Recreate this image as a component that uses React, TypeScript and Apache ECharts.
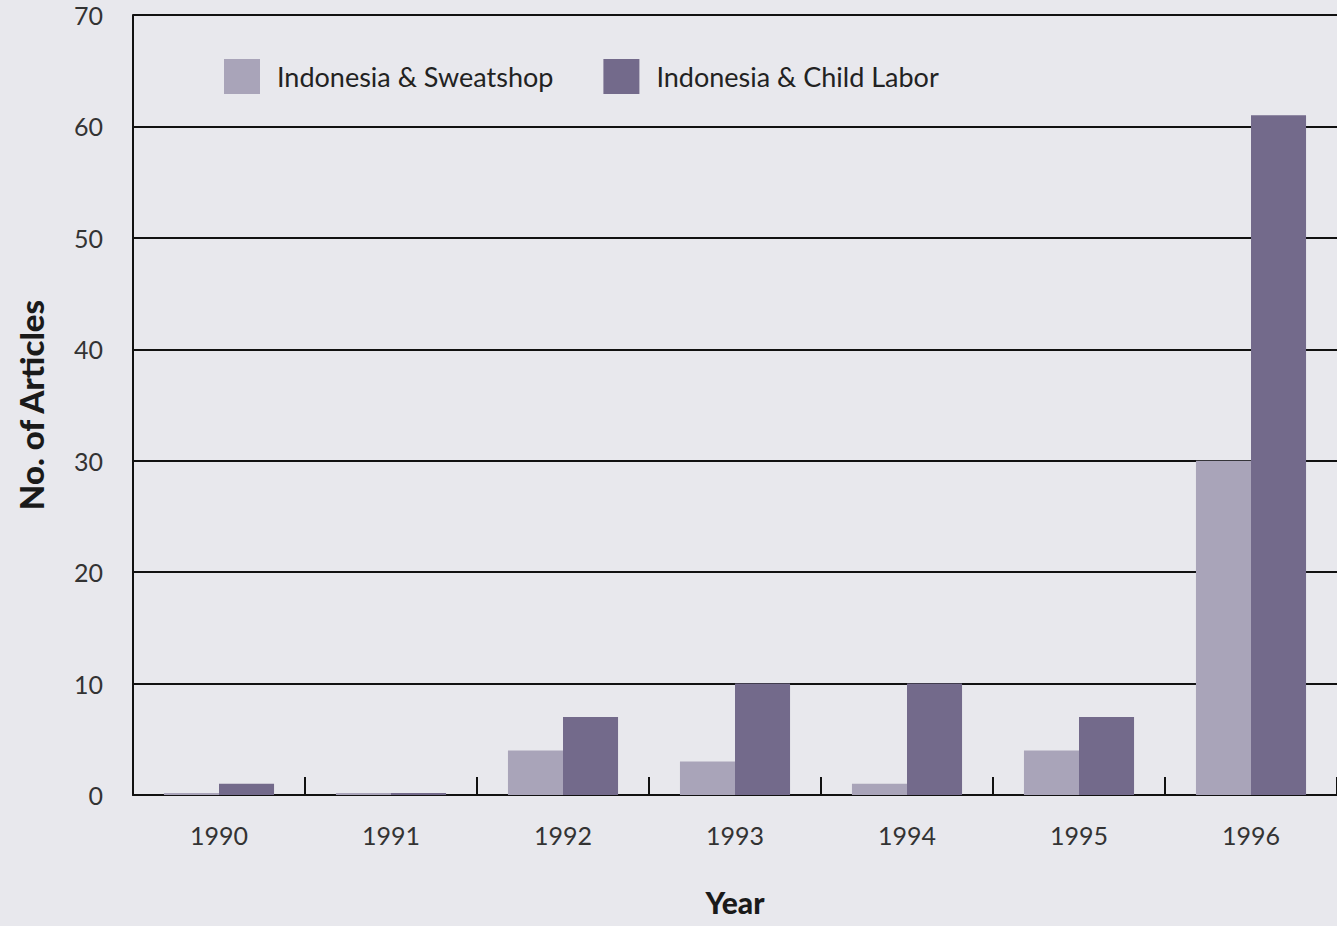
import React, { useEffect, useRef } from "react";
import * as echarts from "echarts";

const years = ["1990", "1991", "1992", "1993", "1994", "1995", "1996"];
const sweatshop = [0, 0, 4, 3, 1, 4, 30];
const childLabor = [1, 0, 7, 10, 10, 7, 61];
const yTicks = { min: 0, max: 70, interval: 10 };

export default function App() {
  const ref = useRef<HTMLDivElement>(null);
  useEffect(() => {
    if (!ref.current) return;
    const chart = echarts.init(ref.current, undefined, { renderer: "svg" });
    const font = "Lato, 'Open Sans', sans-serif";
    chart.setOption({
      animation: false,
      backgroundColor: "#e8e8ed",
      textStyle: { fontFamily: font },
      grid: {
        left: 133,
        right: 0,
        top: 15,
        bottom: 131,
        containLabel: false,
        outerBoundsMode: "none",
      },
      legend: {
        left: 219,
        top: 54,
        itemWidth: 36,
        itemHeight: 35,
        itemGap: 50,
        icon: "rect",
        textStyle: { fontSize: 27, color: "#222", fontFamily: font, padding: [0, 0, 0, 12] },
        data: ["Indonesia & Sweatshop", "Indonesia & Child Labor"],
      },
      xAxis: {
        type: "category",
        data: years,
        name: "Year",
        nameLocation: "middle",
        nameGap: 92,
        nameTextStyle: { fontSize: 30, fontWeight: 900, color: "#1a1a1a", fontFamily: font },
        axisLine: { lineStyle: { color: "#111", width: 2 } },
        axisTick: { show: true, inside: true, length: 18, lineStyle: { color: "#111", width: 2 } },
        axisLabel: { fontSize: 25, color: "#333", margin: 27, fontFamily: font },
      },
      yAxis: {
        type: "value",
        min: yTicks.min,
        max: yTicks.max,
        interval: yTicks.interval,
        name: "No. of Articles",
        nameLocation: "middle",
        nameGap: 86,
        nameTextStyle: { fontSize: 33, fontWeight: 900, color: "#1a1a1a", fontFamily: font },
        axisLine: { show: true, lineStyle: { color: "#111", width: 2 } },
        axisTick: { show: false },
        axisLabel: { fontSize: 25, color: "#333", margin: 30, fontFamily: font },
        splitLine: { lineStyle: { color: "#111", width: 2 } },
      },
      series: [
        {
          name: "Indonesia & Sweatshop",
          type: "bar",
          data: sweatshop,
          barGap: "0%",
          barCategoryGap: "36%",
          barMinHeight: 2,
          itemStyle: { color: "#a9a4b9" },
        },
        {
          name: "Indonesia & Child Labor",
          type: "bar",
          data: childLabor,
          barGap: "0%",
          barCategoryGap: "36%",
          barMinHeight: 2,
          itemStyle: { color: "#736a8b" },
        },
      ],
    });
    return () => chart.dispose();
  }, []);
  return (
    <div
      ref={ref}
      style={{ position: "fixed", left: 0, top: 0, width: 1337, height: 926 }}
    />
  );
}
